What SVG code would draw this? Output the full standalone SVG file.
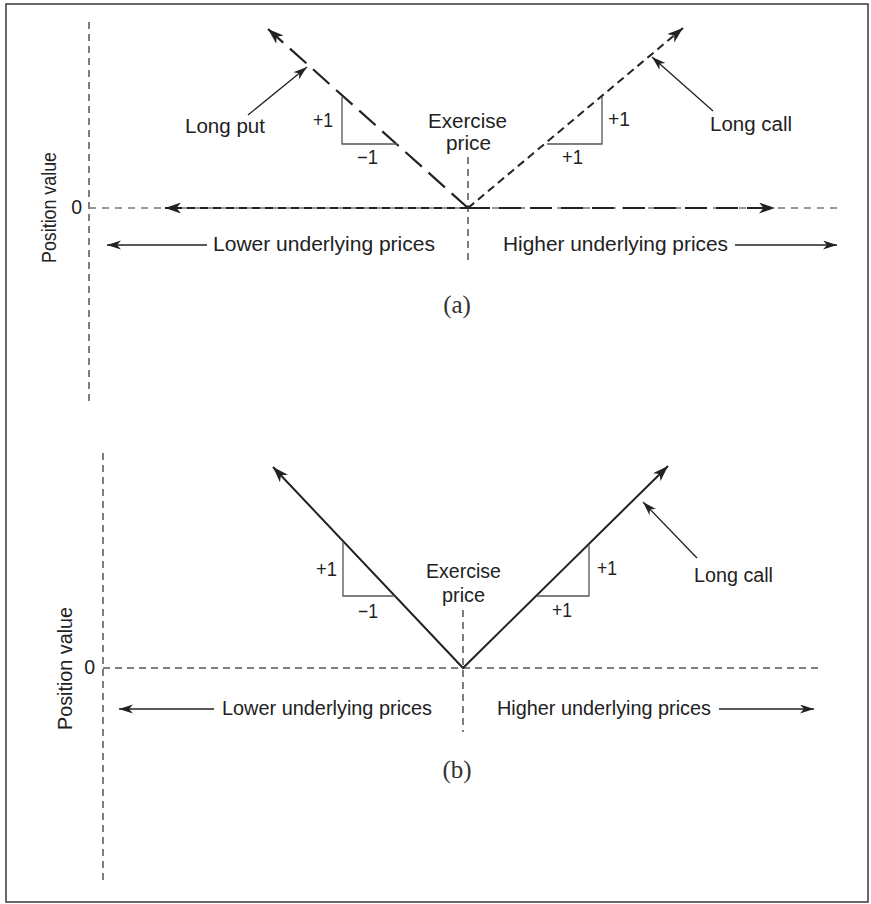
<svg xmlns="http://www.w3.org/2000/svg" width="871" height="904" viewBox="0 0 871 904">
<style>
.t{font-family:"Liberation Sans",Arial,Helvetica,sans-serif;font-size:19.5px;fill:#222;}
.tr{font-size:20px;}
.tm{text-anchor:middle;}
.cap{font-family:"Liberation Serif","Times New Roman",serif;font-size:25px;fill:#333;text-anchor:middle;}
.axis{stroke:#555;stroke-width:1.5;fill:none;stroke-dasharray:7 5;}
.axisg{stroke:#777;stroke-width:1.5;fill:none;stroke-dasharray:7 6;}
.put{stroke:#222;stroke-width:2.2;fill:none;stroke-dasharray:22 9;}
.call{stroke:#222;stroke-width:2;fill:none;stroke-dasharray:8 5;}
.solid{stroke:#222;stroke-width:2;fill:none;}
.tri{stroke:#555;stroke-width:1.3;fill:none;}
.lead{stroke:#222;stroke-width:1.3;fill:none;}
</style>
<defs>
<marker id="ah" markerUnits="userSpaceOnUse" markerWidth="18" markerHeight="12" refX="16" refY="5.5" orient="auto-start-reverse">
<path d="M0,0 L16,5.5 L0,11 L4.5,5.5 z" fill="#222"/>
</marker>
<marker id="ahs" markerUnits="userSpaceOnUse" markerWidth="16" markerHeight="10" refX="14" refY="4.5" orient="auto-start-reverse">
<path d="M0,0 L14,4.5 L0,9 L4,4.5 z" fill="#222"/>
</marker>
</defs>
<rect x="6" y="4" width="862" height="898" fill="#fff" stroke="#444" stroke-width="1.6"/>

<g id="connectors">
<!-- panel a axes -->
<line class="axis" x1="89" y1="22" x2="89" y2="405"/>
<line class="axisg" x1="89" y1="208" x2="838" y2="208"/>
<line class="axis" x1="468" y1="157" x2="468" y2="265"/>
<!-- panel a payoffs -->
<path class="put" d="M468,208 L268,29" marker-end="url(#ah)"/>
<path class="put" d="M468,208 L775,208" marker-end="url(#ah)"/>
<path class="call" d="M468,208 L683,28" marker-end="url(#ah)"/>
<path class="call" d="M468,208 L165,208" marker-end="url(#ah)"/>
<!-- panel a slope triangles -->
<path class="tri" d="M342,97 L342,144 L397,144"/>
<path class="tri" d="M547,144 L602,144 L602,97"/>
<!-- panel a leaders -->
<line class="lead" x1="248" y1="115" x2="307" y2="67" marker-end="url(#ahs)"/>
<line class="lead" x1="713" y1="111" x2="652" y2="57" marker-end="url(#ahs)"/>
<line class="lead" x1="207" y1="245" x2="107" y2="245" marker-end="url(#ahs)"/>
<line class="lead" x1="735" y1="245" x2="837" y2="245" marker-end="url(#ahs)"/>

<!-- panel b axes -->
<line class="axis" x1="103" y1="453" x2="103" y2="883"/>
<line class="axis" x1="103" y1="668" x2="822" y2="668"/>
<line class="axis" x1="463" y1="610" x2="463" y2="732"/>
<!-- panel b payoff -->
<path class="solid" d="M273,467 L463,668 L668,466" marker-start="url(#ah)" marker-end="url(#ah)"/>
<!-- panel b slope triangles -->
<path class="tri" d="M343,542 L343,596 L395,596"/>
<path class="tri" d="M537,596 L589,596 L589,545"/>
<!-- panel b leaders -->
<line class="lead" x1="697" y1="558" x2="643" y2="502" marker-end="url(#ahs)"/>
<line class="lead" x1="214" y1="709" x2="119" y2="709" marker-end="url(#ahs)"/>
<line class="lead" x1="719" y1="709" x2="814" y2="709" marker-end="url(#ahs)"/>
</g>

<g id="panel-a-labels">
<text id="a-posval" class="t tr tm" transform="translate(56,207.5) rotate(-90)" x="0" y="0" textLength="111" lengthAdjust="spacingAndGlyphs">Position value</text>
<text id="a-zero" class="t" x="82" y="214" text-anchor="end">0</text>
<text id="a-longput" class="t" x="185" y="133" textLength="80" lengthAdjust="spacingAndGlyphs">Long put</text>
<text id="a-p1l" class="t" x="313" y="127" textLength="20" lengthAdjust="spacingAndGlyphs">+1</text>
<text id="a-m1" class="t" x="357" y="164" textLength="21" lengthAdjust="spacingAndGlyphs">−1</text>
<text id="a-ex1" class="t" x="428" y="128" textLength="79" lengthAdjust="spacingAndGlyphs">Exercise</text>
<text id="a-ex2" class="t" x="446" y="150" textLength="45" lengthAdjust="spacingAndGlyphs">price</text>
<text id="a-p1r" class="t" x="608" y="126" textLength="22" lengthAdjust="spacingAndGlyphs">+1</text>
<text id="a-p1b" class="t" x="562" y="164" textLength="21" lengthAdjust="spacingAndGlyphs">+1</text>
<text id="a-longcall" class="t" x="710" y="131" textLength="82" lengthAdjust="spacingAndGlyphs">Long call</text>
<text id="a-lower" class="t" x="213" y="251" textLength="222" lengthAdjust="spacingAndGlyphs">Lower underlying prices</text>
<text id="a-higher" class="t" x="503" y="251" textLength="225" lengthAdjust="spacingAndGlyphs">Higher underlying prices</text>
<text id="a-cap" class="cap" x="457" y="313">(a)</text>
</g>

<g id="panel-b-labels">
<text id="b-posval" class="t tr tm" transform="translate(72,668.5) rotate(-90)" x="0" y="0" textLength="123" lengthAdjust="spacingAndGlyphs">Position value</text>
<text id="b-zero" class="t" x="95" y="674" text-anchor="end">0</text>
<text id="b-p1l" class="t" x="316" y="576" textLength="21" lengthAdjust="spacingAndGlyphs">+1</text>
<text id="b-m1" class="t" x="358" y="618" textLength="20" lengthAdjust="spacingAndGlyphs">−1</text>
<text id="b-ex1" class="t" x="426" y="578" textLength="75" lengthAdjust="spacingAndGlyphs">Exercise</text>
<text id="b-ex2" class="t" x="442" y="602" textLength="43" lengthAdjust="spacingAndGlyphs">price</text>
<text id="b-p1r" class="t" x="597" y="575" textLength="20" lengthAdjust="spacingAndGlyphs">+1</text>
<text id="b-p1b" class="t" x="552" y="617" textLength="20" lengthAdjust="spacingAndGlyphs">+1</text>
<text id="b-longcall" class="t" x="694" y="582" textLength="79" lengthAdjust="spacingAndGlyphs">Long call</text>
<text id="b-lower" class="t" x="222" y="715" textLength="210" lengthAdjust="spacingAndGlyphs">Lower underlying prices</text>
<text id="b-higher" class="t" x="497" y="715" textLength="214" lengthAdjust="spacingAndGlyphs">Higher underlying prices</text>
<text id="b-cap" class="cap" x="457" y="778">(b)</text>
</g>
</svg>
